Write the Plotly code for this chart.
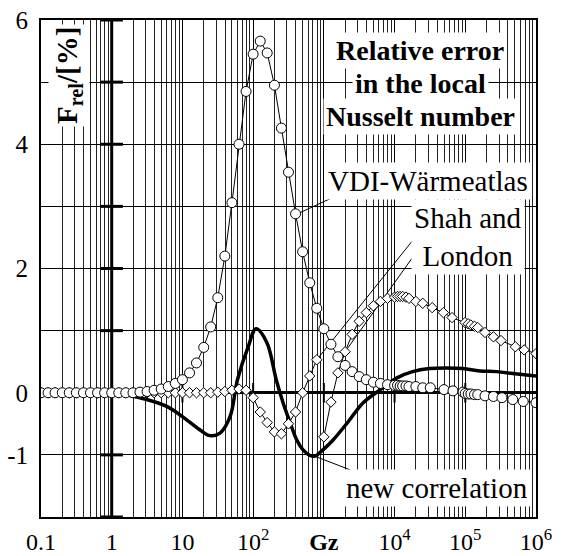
import plotly.graph_objects as go

# ---------------- data ----------------
gz_vdi = [0.1, 0.126, 0.158, 0.2, 0.251, 0.316, 0.398, 0.501, 0.631, 0.794,
          1, 1.26, 1.58, 2.0, 2.51, 3.16, 3.98, 5.01, 6.31, 7.94,
          10, 12.6, 15.8, 20, 25.1, 31.6, 39.8, 50.1, 63.1, 79.4,
          100, 126, 158, 200, 251, 316, 398, 501, 631, 794,
          1000, 1260, 1580, 2000, 2510, 3160, 3980, 5010, 6310, 7940,
          10000, 11000, 12000, 13000, 14500, 16000, 20000, 25000, 32000, 50000,
          67000, 93000, 100000, 110000, 120000, 135000, 150000, 190000, 250000, 330000,
          470000, 660000, 1000000]
f_vdi = [0, 0, 0, 0, 0, 0, 0, 0, 0, 0,
         0, 0, 0, 0, 0.01, 0.02, 0.04, 0.06, 0.10, 0.15,
         0.21, 0.32, 0.48, 0.73, 1.06, 1.53, 2.20, 3.06, 4.00, 4.85,
         5.45, 5.66, 5.47, 4.95, 4.26, 3.55, 2.88, 2.27, 1.77, 1.36,
         1.03, 0.78, 0.58, 0.44, 0.34, 0.26, 0.21, 0.17, 0.15, 0.13,
         0.12, 0.12, 0.11, 0.11, 0.11, 0.10, 0.10, 0.08, 0.08, 0.05,
         0.03, 0.01, -0.01, -0.02, -0.02, -0.03, -0.03, -0.05, -0.06, -0.08,
         -0.11, -0.14, -0.16]

gz_sl_a = [0.1, 0.126, 0.158, 0.2, 0.251, 0.316, 0.398, 0.501, 0.631, 0.794,
           1, 1.26, 1.58, 2.0, 2.51, 3.16, 3.98, 5.01, 6.31, 7.94,
           10, 12.6, 15.8, 20, 25.1, 31.6, 39.8, 50.1, 63.1, 79.4,
           100, 126, 158, 200, 251, 316, 398, 501, 631, 794]
f_sl_a = [0, 0, 0, 0, 0, 0, 0, 0, 0, 0,
          0, 0, 0, 0, 0, 0, 0, 0, 0, 0,
          0, 0, 0, 0, 0, 0.01, 0.02, 0.04, 0.06, 0.04,
          -0.08, -0.31, -0.48, -0.63, -0.66, -0.50, -0.31, 0.0, 0.27, 0.53]

gz_sl_b = [1000, 1260, 1580, 2000, 2510, 3160, 3980, 5010, 6310, 7940,
           10000, 11000, 12000, 13000, 14500, 16000, 20000, 25000, 34000, 49000,
           65000, 99000, 110000, 120000, 135000, 150000, 190000, 250000, 320000, 510000,
           680000, 1000000]
f_sl_b = [-0.71, -0.15, 0.32, 0.66, 0.94, 1.15, 1.29, 1.40, 1.47, 1.52,
          1.54, 1.55, 1.55, 1.55, 1.54, 1.52, 1.47, 1.44, 1.37, 1.29,
          1.21, 1.13, 1.11, 1.09, 1.07, 1.05, 0.97, 0.90, 0.84, 0.74,
          0.69, 0.63]

gz_new = [0.1, 1, 2.5, 6, 11.6, 17.8, 24.5, 34, 47, 60, 85, 110, 156, 212, 265,
          333, 414, 508, 638, 750, 970, 1350, 2160, 3600, 6300, 10800, 18000,
          31000, 54000, 93000, 160000, 280000, 470000, 1000000]
f_new = [0, 0, -0.08, -0.22, -0.44, -0.60, -0.69, -0.65, -0.39, 0.21, 0.74, 1.03, 0.81,
         0.21, -0.16, -0.48, -0.76, -0.92, -1.01, -1.02, -0.92, -0.76, -0.48, -0.16,
         0.05, 0.24, 0.34, 0.39, 0.40, 0.39, 0.35, 0.34, 0.31, 0.27]

x_tickvals = [0.1, 1, 10, 100, 1000, 1e4, 1e5, 1e6]
x_ticktext = ['0.1', '1', '10', '10<sup>2</sup>', '<b>Gz</b>', '10<sup>4</sup>',
              '10<sup>5</sup>', '10<sup>6</sup>']
y_tickvals = [-1, 0, 2, 4, 6]
y_ticktext = ['-1', '0', '2', '4', '6']
y_axis_ticks = [-2, -1, 0, 1, 2, 3, 4, 5, 6]

# pointer lines (from curve point to label)
ptr_vdi = ([405, 1440], [2.87, 3.16])
ptr_sl1 = ([794, 17700], [0.53, 2.44])
ptr_sl2 = ([2000, 18300], [0.66, 2.19])
ptr_new = ([700, 2350], [-1.01, -1.24])

FONT = "Liberation Serif, Times New Roman, serif"

fig = go.Figure()

# central axis cross at Gz = 1
fig.add_trace(go.Scatter(x=[1, 1], y=[-2, 6], mode='lines',
                         line=dict(color='black', width=3), hoverinfo='skip', showlegend=False))
fig.add_trace(go.Scatter(x=[1] * len(y_axis_ticks), y=y_axis_ticks, mode='markers',
                         marker=dict(symbol='line-ew', size=16, line=dict(width=3, color='black')),
                         hoverinfo='skip', showlegend=False))
fig.add_trace(go.Scatter(x=[10, 100, 1000, 1e4, 1e5], y=[0, 0, 0, 0, 0], mode='markers',
                         marker=dict(symbol='line-ns', size=14, line=dict(width=2, color='black')),
                         hoverinfo='skip', showlegend=False))

# new correlation
fig.add_trace(go.Scatter(x=gz_new, y=f_new, mode='lines', line=dict(color='black', width=3.5, shape='spline', smoothing=1.0),
                         name='new correlation', showlegend=False))

# pointer lines
for px, py in (ptr_vdi, ptr_sl1, ptr_sl2, ptr_new):
    fig.add_trace(go.Scatter(x=px, y=py, mode='lines', line=dict(color='black', width=1),
                             hoverinfo='skip', showlegend=False))

# Shah and London
dmark = dict(symbol='diamond', size=8, color='white', line=dict(color='black', width=1))
fig.add_trace(go.Scatter(x=gz_sl_a, y=f_sl_a, mode='lines+markers', line=dict(color='black', width=1),
                         marker=dmark, name='Shah and London', showlegend=False))
fig.add_trace(go.Scatter(x=gz_sl_b, y=f_sl_b, mode='lines+markers', line=dict(color='black', width=1),
                         marker=dmark, name='Shah and London', showlegend=False))

# VDI-Waermeatlas
fig.add_trace(go.Scatter(x=gz_vdi, y=f_vdi, mode='lines+markers', line=dict(color='black', width=1),
                         marker=dict(symbol='circle', size=10, color='white', line=dict(color='black', width=1)),
                         name='VDI-Wärmeatlas', showlegend=False))

W, H = 569, 556
ML, MR, MT, MB = 41, 33, 20, 39
pw, ph = W - ML - MR, H - MT - MB


def px2paper(x, y):
    return (x - ML) / pw, (H - MB - y) / ph


annots = []


def add_text(text, cx, cy, size, angle=0):
    x, y = px2paper(cx, cy)
    annots.append(dict(text=text, x=x, y=y, xref='paper', yref='paper', xanchor='center', yanchor='middle',
                       showarrow=False, bgcolor='white', borderpad=2, textangle=angle,
                       font=dict(family=FONT, size=size, color='black')))


add_text('<b>Relative error</b>', 420, 51, 28)
add_text('<b>in the local</b>', 420, 84, 28)
add_text('<b>Nusselt number</b>', 420, 117, 28)
add_text('VDI-Wärmeatlas', 428, 181, 29)
add_text('Shah and<br>London', 468, 237, 29)
add_text('new correlation', 437, 488, 29)
add_text('<b>F<sub>rel</sub>/[%]</b>', 69, 76, 29, angle=-90)

fig.update_layout(
    width=W, height=H,
    margin=dict(l=ML, r=MR, t=MT, b=MB, autoexpand=False),
    plot_bgcolor='white', paper_bgcolor='white',
    font=dict(family=FONT, size=25, color='black'),
    annotations=annots,
    showlegend=False,
)
fig.update_xaxes(type='log', range=[-1, 6], tickmode='array', tickvals=x_tickvals, ticktext=x_ticktext,
                 showgrid=True, gridcolor='black', gridwidth=1,
                 minor=dict(dtick='D1', showgrid=True, gridcolor='#222', gridwidth=1, ticks=''),
                 ticks='', ticklabelstandoff=2, automargin=False,
                 showline=True, linecolor='black', linewidth=2, mirror=True,
                 tickfont=dict(family=FONT, size=24, color='black'), zeroline=False)
fig.update_yaxes(range=[-2, 6], tickmode='array', tickvals=y_tickvals, ticktext=y_ticktext,
                 showgrid=True, gridcolor='black', gridwidth=1,
                 minor=dict(tick0=0, dtick=1, showgrid=True, gridcolor='black', gridwidth=1, ticks=''),
                 zeroline=True, zerolinecolor='black', zerolinewidth=2.5,
                 ticks='', ticklabelstandoff=6, automargin=False,
                 showline=True, linecolor='black', linewidth=2, mirror=True,
                 tickfont=dict(family=FONT, size=25, color='black'))

fig.write_html("out.html", config={'displayModeBar': False},
               post_script="document.body.style.margin='0';document.body.style.overflow='hidden';")
